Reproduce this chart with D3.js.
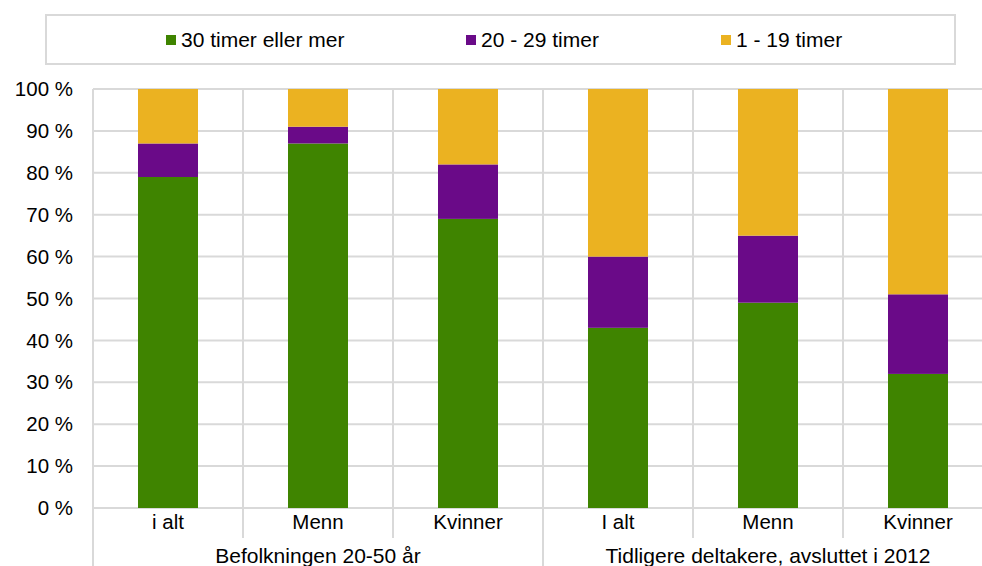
<!DOCTYPE html>
<html lang="no">
<head>
<meta charset="UTF-8">
<title>Arbeidstid</title>
<script src="https://cdn.jsdelivr.net/npm/d3@7"></script>
<style>
    body { margin: 0; background: #fff; }
    svg { display: block; font-family: "Liberation Sans", Arial, sans-serif; }
</style>
</head>
<body>
<svg id="chart" width="982" height="566"></svg>
<script>
// data
const categories = ['i alt', 'Menn', 'Kvinner', 'I alt', 'Menn', 'Kvinner'];
const groups = ['Befolkningen 20-50 år', 'Tidligere deltakere, avsluttet i 2012'];
const seriesNames = ['30 timer eller mer', '20 - 29 timer', '1 - 19 timer'];
const over30 = [79, 87, 69, 43, 49, 32];
const from20to29 = [8, 4, 13, 17, 16, 19];
const from1to19 = [13, 9, 18, 40, 35, 49];
const yTicks = [0, 10, 20, 30, 40, 50, 60, 70, 80, 90, 100];

const colors = ['#3f8400', '#6a0a88', '#ebb221'];
const gridColor = '#d9d9d9';
const fontSize = 20.5;

const svg = d3.select('#chart');
const plotLeft = 93, plotRight = 993, plotTop = 89, plotBottom = 508;

const rows = categories.map((c, i) => ({
    idx: i,
    s0: over30[i],
    s1: from20to29[i],
    s2: from1to19[i]
}));

const x = d3.scaleBand()
    .domain(d3.range(categories.length))
    .range([plotLeft, plotRight])
    .paddingInner(0.6)
    .paddingOuter(0.3);

const y = d3.scaleLinear().domain([0, 100]).range([plotBottom, plotTop]);

// horizontal gridlines
svg.append('g')
    .selectAll('line')
    .data(yTicks)
    .join('line')
    .attr('x1', plotLeft)
    .attr('x2', plotRight)
    .attr('y1', d => y(d))
    .attr('y2', d => y(d))
    .attr('stroke', gridColor)
    .attr('stroke-width', 2);

// vertical separators between categories
const step = x.step();
svg.append('g')
    .selectAll('line')
    .data(d3.range(categories.length))
    .join('line')
    .attr('x1', d => x(d) - step * 0.3)
    .attr('x2', d => x(d) - step * 0.3)
    .attr('y1', plotTop)
    .attr('y2', d => (d % 3 === 0) ? 566 : 538)
    .attr('stroke', gridColor)
    .attr('stroke-width', 2);

// stacked bars
const stack = d3.stack().keys(['s0', 's1', 's2']);
svg.append('g')
    .selectAll('g')
    .data(stack(rows))
    .join('g')
    .attr('fill', (d, i) => colors[i])
    .selectAll('rect')
    .data(d => d)
    .join('rect')
    .attr('x', d => x(d.data.idx))
    .attr('width', x.bandwidth())
    .attr('y', d => y(d[1]))
    .attr('height', d => y(d[0]) - y(d[1]));

// y axis labels
svg.append('g')
    .selectAll('text')
    .data(yTicks)
    .join('text')
    .attr('x', 73)
    .attr('y', d => y(d))
    .attr('dy', '0.35em')
    .attr('text-anchor', 'end')
    .attr('font-size', fontSize)
    .attr('fill', '#000')
    .text(d => d + ' %');

// category labels
svg.append('g')
    .selectAll('text')
    .data(categories)
    .join('text')
    .attr('x', (d, i) => x(i) + x.bandwidth() / 2)
    .attr('y', 522)
    .attr('dy', '0.35em')
    .attr('text-anchor', 'middle')
    .attr('font-size', fontSize)
    .text(d => d);

// group labels
svg.append('g')
    .selectAll('text')
    .data(groups)
    .join('text')
    .attr('x', (d, i) => x(i * 3 + 1) + x.bandwidth() / 2)
    .attr('y', 556)
    .attr('dy', '0.35em')
    .attr('text-anchor', 'middle')
    .attr('font-size', 21)
    .text(d => d);

// legend
svg.append('rect')
    .attr('x', 46)
    .attr('y', 15)
    .attr('width', 909)
    .attr('height', 49)
    .attr('fill', '#fff')
    .attr('stroke', gridColor)
    .attr('stroke-width', 2);

const legendX = [166, 466, 721];
const legend = svg.append('g')
    .selectAll('g')
    .data(seriesNames)
    .join('g')
    .attr('transform', (d, i) => `translate(${legendX[i]},40)`);

legend.append('rect')
    .attr('x', 0)
    .attr('y', -5)
    .attr('width', 10)
    .attr('height', 10)
    .attr('fill', (d, i) => colors[i]);

legend.append('text')
    .attr('x', 15)
    .attr('dy', '0.35em')
    .attr('font-size', 21)
    .text(d => d);
</script>
</body>
</html>
